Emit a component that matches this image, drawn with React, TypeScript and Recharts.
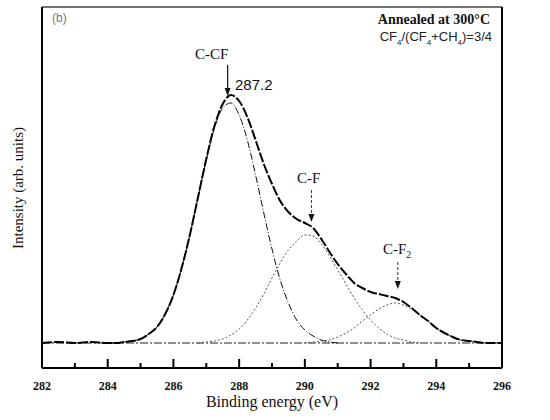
import { LineChart, Line, XAxis, YAxis, ReferenceLine, ReferenceDot } from 'recharts';

// binding energy grid (eV)
const energy = [
  282, 282.5, 283, 283.5, 284, 284.25, 284.5, 284.75, 285, 285.25, 285.5, 285.75,
  286, 286.25, 286.5, 286.75, 287, 287.25, 287.5, 287.75, 288, 288.25, 288.5, 288.75,
  289, 289.25, 289.5, 289.75, 290, 290.25, 290.5, 290.75, 291, 291.25, 291.5, 291.75,
  292, 292.25, 292.5, 292.75, 293, 293.25, 293.5, 293.75, 294, 294.25, 294.5, 294.75,
  295, 295.25, 295.5, 296,
];

// measured spectrum (arb. units)
const measured = [
  0, 1, 0, 1, 0, 0, 1, 2, 4, 9, 16, 29,
  48, 75, 108, 146, 184, 217, 239, 248, 242, 226, 203, 179,
  159, 142, 131, 124, 120, 115, 104, 91, 79, 69, 60, 55,
  51, 49, 47, 45, 41, 35, 28, 22, 15, 10, 6, 3,
  2, 1, 0, 0,
];

// fitted components
const cCF = [
  null, null, null, null, 0, 0, 1, 2, 4, 9, 16, 29,
  48, 75, 108, 146, 183, 215, 235, 240, 228, 203, 168, 130,
  94, 63, 40, 23, 13, 7, 3, 1, 0, null, null, null,
  null, null, null, null, null, null, null, null, null, null, null, null,
  null, null, null, null,
];
const cF = [
  null, null, null, null, null, null, null, null, null, null, null, null,
  null, null, null, 0, 1, 2, 4, 8, 14, 23, 35, 49,
  65, 80, 93, 102, 108, 107, 99, 87, 73, 59, 45, 33,
  23, 15, 9, 5, 3, 1, 0, null, null, null, null, null,
  null, null, null, null,
];
const cF2 = [
  null, null, null, null, null, null, null, null, null, null, null, null,
  null, null, null, null, null, null, null, null, null, null, null, null,
  null, null, null, null, 0, 1, 2, 3, 6, 10, 15, 22,
  28, 34, 38, 40, 38, 34, 28, 22, 15, 10, 6, 3,
  2, 1, 0, null,
];

const majorTicks = [282, 284, 286, 288, 290, 292, 294, 296];
const minorTicks = [283, 285, 287, 289, 291, 293, 295];

const Y_MIN = -25;
const Y_MAX = 336;

const chartData = energy.map((e, i) => ({
  e,
  measured: measured[i],
  cCF: cCF[i],
  cF: cF[i],
  cF2: cF2[i],
}));

const serif = '"Liberation Serif", "DejaVu Serif", serif';
const sans = '"Liberation Sans", Arial, sans-serif';

const arrowHead = (p: any) => (
  <path d={`M${p.cx - 3},${p.cy - 8} L${p.cx + 3},${p.cy - 8} L${p.cx},${p.cy} Z`} fill="#111" />
);

export default function App() {
  return (
    <div style={{ position: 'absolute', left: 0, top: 0, width: 550, height: 420, background: '#fff' }}>
      <LineChart width={550} height={420} data={chartData} margin={{ top: 6, right: 47, bottom: 22, left: 41 }}>
        <XAxis
          dataKey="e"
          type="number"
          domain={[282, 296]}
          ticks={majorTicks}
          height={30}
          tickSize={0}
          tickMargin={13}
          tickLine={false}
          tick={{ fontFamily: serif, fontWeight: 'bold', fontSize: 12, fill: '#111' }}
          axisLine={{ stroke: '#000', strokeWidth: 2 }}
          allowDataOverflow
        />
        <XAxis xAxisId="top" orientation="top" type="number" domain={[282, 296]} height={1} tick={false} tickLine={false} axisLine={{ stroke: '#444', strokeWidth: 1.5 }} />
        <YAxis type="number" domain={[Y_MIN, Y_MAX]} width={1} tick={false} tickLine={false} axisLine={{ stroke: '#000', strokeWidth: 2 }} allowDataOverflow />
        <YAxis yAxisId="right" orientation="right" type="number" domain={[Y_MIN, Y_MAX]} width={1} tick={false} tickLine={false} axisLine={{ stroke: '#000', strokeWidth: 2 }} />

        <ReferenceLine y={0} stroke="#222" strokeWidth={1} strokeDasharray="8 2 2 2" />

        <Line type="monotone" dataKey="cF" stroke="#555" strokeWidth={1} strokeDasharray="2 2" dot={false} isAnimationActive={false} />
        <Line type="monotone" dataKey="cF2" stroke="#555" strokeWidth={1} strokeDasharray="2 2" dot={false} isAnimationActive={false} />
        <Line type="monotone" dataKey="cCF" stroke="#111" strokeWidth={1} strokeDasharray="7 2 1 2" dot={false} isAnimationActive={false} />
        <Line type="monotone" dataKey="measured" stroke="#000" strokeWidth={2} strokeDasharray="10 2" dot={false} isAnimationActive={false} />

        {/* inward tick marks on the energy axis */}
        {majorTicks.map((t) => (
          <ReferenceLine key={'M' + t} ifOverflow="visible" segment={[{ x: t, y: Y_MIN }, { x: t, y: Y_MIN + 9 }]} stroke="#000" strokeWidth={2} />
        ))}
        {minorTicks.map((t) => (
          <ReferenceLine key={'m' + t} ifOverflow="visible" segment={[{ x: t, y: Y_MIN }, { x: t, y: Y_MIN + 5 }]} stroke="#000" strokeWidth={2} />
        ))}

        <ReferenceLine segment={[{ x: 287.65, y: 278 }, { x: 287.65, y: 252 }]} stroke="#111" strokeWidth={1.2} />
        <ReferenceDot x={287.65} y={247} r={3} shape={arrowHead} />
        <ReferenceLine segment={[{ x: 290.2, y: 153 }, { x: 290.2, y: 127 }]} stroke="#333" strokeWidth={1} strokeDasharray="3 2" />
        <ReferenceDot x={290.2} y={121} r={3} shape={arrowHead} />
        <ReferenceLine segment={[{ x: 292.83, y: 81 }, { x: 292.83, y: 60 }]} stroke="#333" strokeWidth={1} strokeDasharray="3 2" />
        <ReferenceDot x={292.83} y={54} r={3} shape={arrowHead} />
      </LineChart>

      <div style={{ position: 'absolute', left: 52, top: 11, fontFamily: sans, fontSize: 12, color: '#777' }}>(b)</div>
      <div style={{ position: 'absolute', left: 195, top: 46, fontFamily: serif, fontSize: 15, color: '#111' }}>C-CF</div>
      <div style={{ position: 'absolute', left: 235, top: 76, fontFamily: sans, fontSize: 15, color: '#111' }}>287.2</div>
      <div style={{ position: 'absolute', left: 297, top: 170, fontFamily: serif, fontSize: 15, color: '#111' }}>C-F</div>
      <div style={{ position: 'absolute', left: 383, top: 241, fontFamily: serif, fontSize: 15, color: '#111' }}>
        C-F<sub style={{ fontSize: 10 }}>2</sub>
      </div>
      <div style={{ position: 'absolute', right: 60, top: 12, fontFamily: serif, fontSize: 14, fontWeight: 'bold', color: '#111' }}>
        Annealed at 300°C
      </div>
      <div style={{ position: 'absolute', right: 58, top: 29, fontFamily: sans, fontSize: 13, color: '#222' }}>
        CF<sub style={{ fontSize: 8 }}>4</sub>/(CF<sub style={{ fontSize: 8 }}>4</sub>+CH<sub style={{ fontSize: 8 }}>4</sub>)=3/4
      </div>
      <div
        style={{
          position: 'absolute',
          left: 18,
          top: 188,
          transform: 'translate(-50%, -50%) rotate(-90deg)',
          whiteSpace: 'nowrap',
          fontFamily: serif,
          fontSize: 15,
          color: '#111',
        }}
      >
        Intensity (arb. units)
      </div>
      <div style={{ position: 'absolute', left: 0, width: 550, top: 393, textAlign: 'center', fontFamily: serif, fontSize: 16, color: '#111' }}>
        <span style={{ position: 'relative', left: -3 }}>Binding energy (eV)</span>
      </div>
    </div>
  );
}
